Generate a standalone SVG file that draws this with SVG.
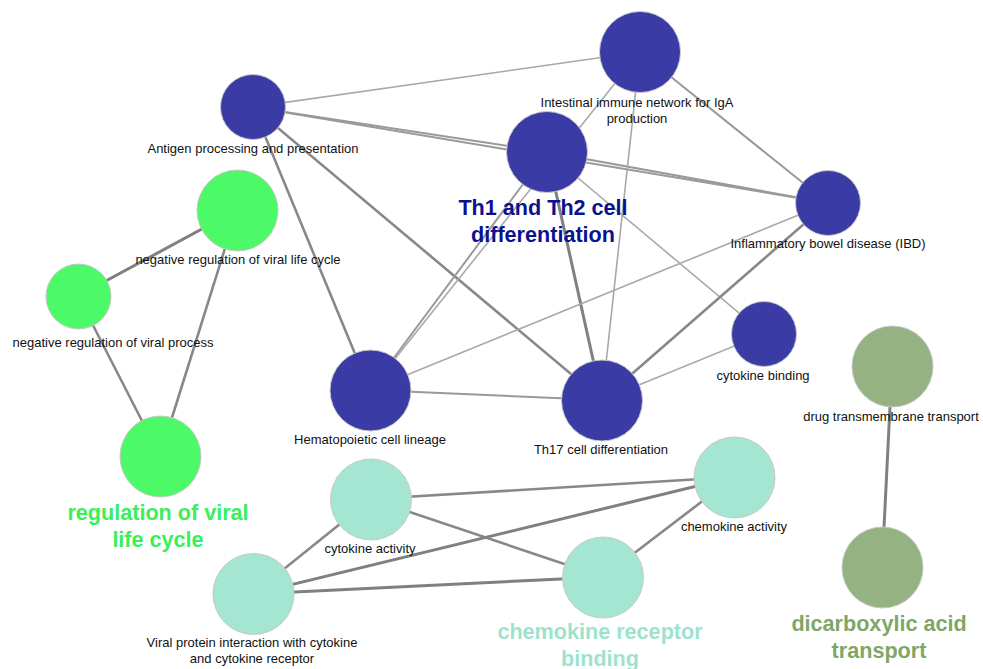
<svg xmlns="http://www.w3.org/2000/svg" width="983" height="669" viewBox="0 0 983 669">
<style>
  .n { stroke: #c8c8c8; stroke-width: 1; }
  .b { fill: #3a3ba4; }
  .g { fill: #4cf966; }
  .t { fill: #a5e6d2; }
  .o { fill: #95b283; }
  .lbl { font-family: "Liberation Sans", Arial, sans-serif; font-size: 13px; fill: #111; text-anchor: middle; }
  .big { font-family: "Liberation Sans", Arial, sans-serif; font-size: 21.6px; font-weight: bold; text-anchor: middle; }
  .e1 { stroke: #a8a8a8; stroke-width: 1.6; fill: none; }
  .e2 { stroke: #999; stroke-width: 2; fill: none; }
  .e3 { stroke: #888; stroke-width: 2.6; fill: none; }
  .e4 { stroke: #808080; stroke-width: 3; fill: none; }
</style>
<rect width="983" height="669" fill="#ffffff"/>
<g id="edges">
  <line class="e1" x1="253" y1="107" x2="640" y2="52"/>
  <line class="e2" x1="253" y1="107" x2="547" y2="152"/>
  <line class="e2" x1="253" y1="107" x2="828" y2="203"/>
  <line class="e2" x1="547" y1="152" x2="828" y2="203"/>
  <line class="e3" x1="253" y1="107" x2="370" y2="390"/>
  <line class="e3" x1="253" y1="107" x2="602" y2="400"/>
  <line class="e2" x1="640" y1="52" x2="828" y2="203"/>
  <line class="e1" x1="640" y1="52" x2="370" y2="390"/>
  <line class="e2" x1="547" y1="152" x2="370" y2="390"/>
  <line class="e1" x1="640" y1="52" x2="602" y2="400"/>
  <line class="e4" x1="547" y1="152" x2="602" y2="400"/>
  <line class="e1" x1="547" y1="152" x2="764" y2="334"/>
  <line class="e1" x1="370" y1="390" x2="828" y2="203"/>
  <line class="e2" x1="370" y1="390" x2="602" y2="400"/>
  <line class="e3" x1="602" y1="400" x2="828" y2="203"/>
  <line class="e1" x1="602" y1="400" x2="764" y2="334"/>
  <line class="e4" x1="237" y1="210" x2="78" y2="296"/>
  <line class="e3" x1="78" y1="296" x2="160" y2="456"/>
  <line class="e3" x1="237" y1="210" x2="160" y2="456"/>
  <line class="e4" x1="892" y1="366" x2="882" y2="568"/>
  <line class="e3" x1="371" y1="499" x2="734" y2="477"/>
  <line class="e3" x1="371" y1="499" x2="603" y2="577"/>
  <line class="e3" x1="371" y1="499" x2="253" y2="594"/>
  <line class="e4" x1="253" y1="594" x2="734" y2="477"/>
  <line class="e4" x1="253" y1="594" x2="603" y2="577"/>
  <line class="e3" x1="603" y1="577" x2="734" y2="477"/>
</g>
<g id="n-intestinal">
  <circle class="n b" cx="640" cy="52" r="40.5"/>
  <text class="lbl" x="637" y="107">Intestinal immune network for IgA</text>
  <text class="lbl" x="637" y="123">production</text>
</g>
<g id="n-th1th2">
  <circle class="n b" cx="547" cy="152" r="40.5"/>
  <text class="big" x="543" y="215" fill="#0a128e">Th1 and Th2 cell</text>
  <text class="big" x="543" y="242" fill="#0a128e">differentiation</text>
</g>
<g id="n-antigen">
  <circle class="n b" cx="253" cy="107" r="32.5"/>
  <text class="lbl" x="253" y="153">Antigen processing and presentation</text>
</g>
<g id="n-ibd">
  <circle class="n b" cx="828" cy="203" r="32.5"/>
  <text class="lbl" x="828" y="248">Inflammatory bowel disease (IBD)</text>
</g>
<g id="n-cytokine-binding">
  <circle class="n b" cx="764" cy="334" r="32.5"/>
  <text class="lbl" x="763" y="380">cytokine binding</text>
</g>
<g id="n-hematopoietic">
  <circle class="n b" cx="370.5" cy="390.5" r="40.5"/>
  <text class="lbl" x="370" y="444">Hematopoietic cell lineage</text>
</g>
<g id="n-th17">
  <circle class="n b" cx="602" cy="400.5" r="40.5"/>
  <text class="lbl" x="601" y="454">Th17 cell differentiation</text>
</g>
<g id="n-neg-vlc">
  <circle class="n g" cx="237.5" cy="210.5" r="40.5"/>
  <text class="lbl" x="238" y="264">negative regulation of viral life cycle</text>
</g>
<g id="n-neg-vp">
  <circle class="n g" cx="78.5" cy="296.5" r="32.5"/>
  <text class="lbl" x="113" y="347">negative regulation of viral process</text>
</g>
<g id="n-reg-vlc">
  <circle class="n g" cx="160.5" cy="456.5" r="40.5"/>
  <text class="big" x="158" y="520" fill="#38f058">regulation of viral</text>
  <text class="big" x="158" y="547" fill="#38f058">life cycle</text>
</g>
<g id="n-drug">
  <circle class="n o" cx="892.5" cy="366.5" r="40.5"/>
  <text class="lbl" x="891" y="421">drug transmembrane transport</text>
</g>
<g id="n-dicarboxylic">
  <circle class="n o" cx="882.5" cy="567.5" r="40.5"/>
  <text class="big" x="879" y="631" fill="#7ea766">dicarboxylic acid</text>
  <text class="big" x="879" y="658" fill="#7ea766">transport</text>
</g>
<g id="n-chemokine-activity">
  <circle class="n t" cx="734.5" cy="477.5" r="40.5"/>
  <text class="lbl" x="734" y="531">chemokine activity</text>
</g>
<g id="n-cytokine-activity">
  <circle class="n t" cx="371" cy="499.5" r="40.5"/>
  <text class="lbl" x="370" y="553">cytokine activity</text>
</g>
<g id="n-chemokine-receptor">
  <circle class="n t" cx="603" cy="577.5" r="40.5"/>
  <text class="big" x="600" y="639" fill="#9de3cc">chemokine receptor</text>
  <text class="big" x="600" y="666" fill="#9de3cc">binding</text>
</g>
<g id="n-viral-protein">
  <circle class="n t" cx="253.5" cy="594" r="40.5"/>
  <text class="lbl" x="252" y="647">Viral protein interaction with cytokine</text>
  <text class="lbl" x="252" y="663">and cytokine receptor</text>
</g>
</svg>
